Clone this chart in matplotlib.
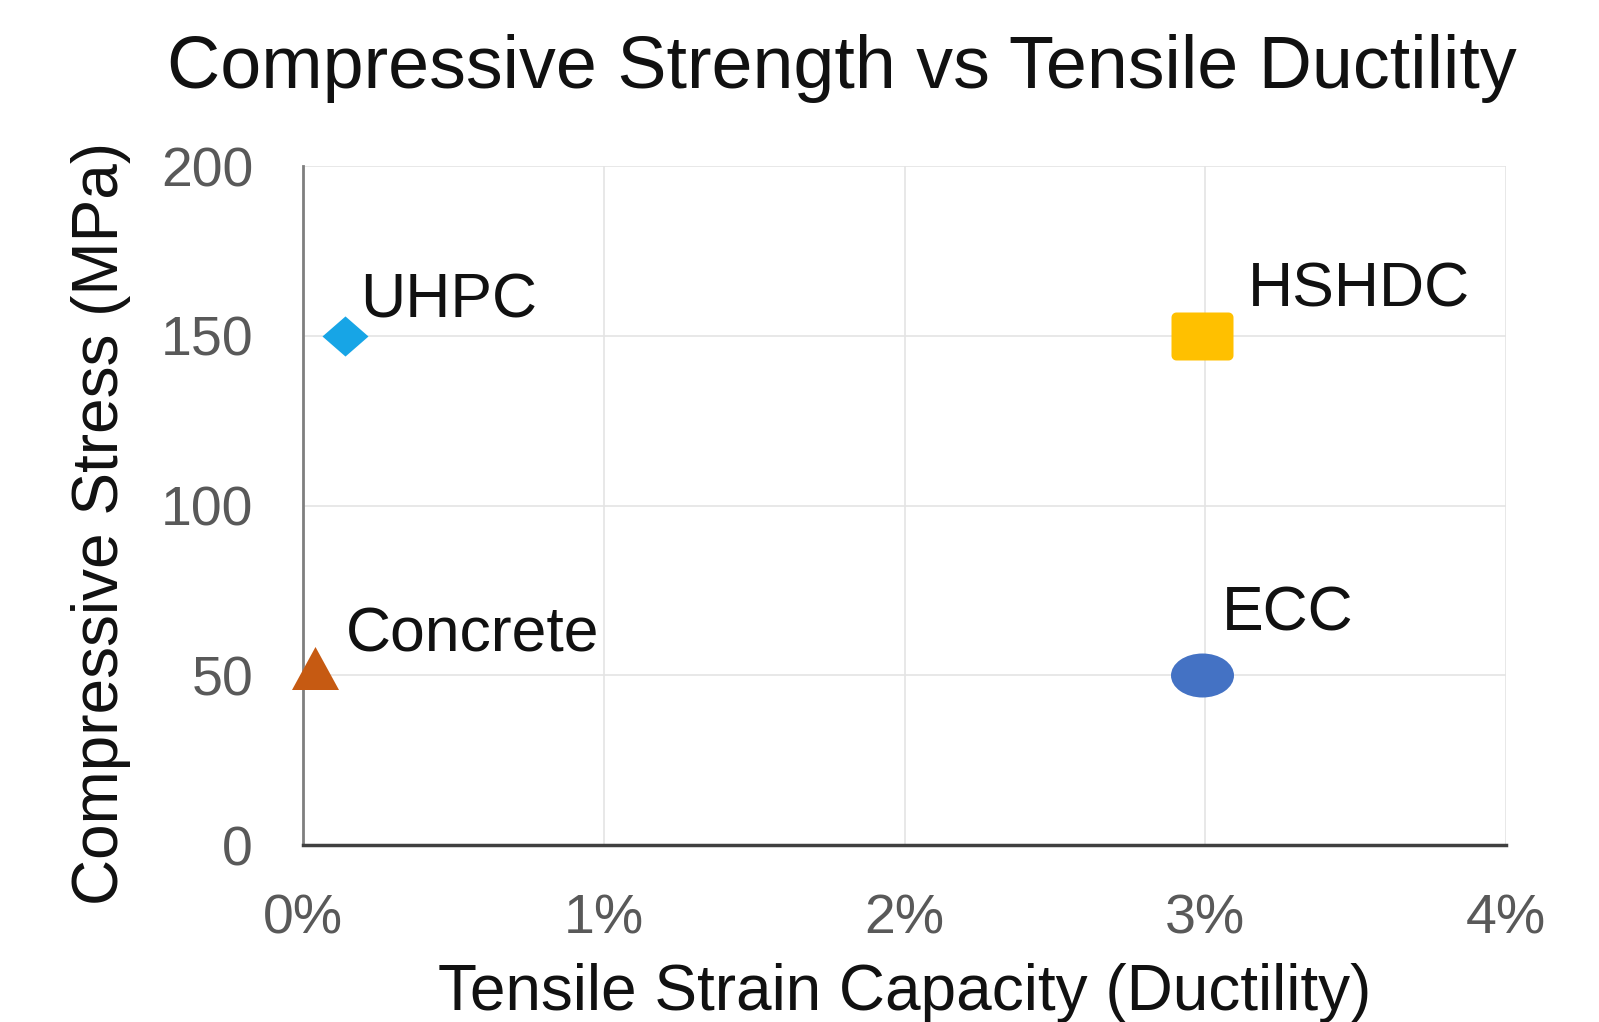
import numpy as np
import matplotlib
matplotlib.use("Agg")
import matplotlib.pyplot as plt
from matplotlib.path import Path
from matplotlib.transforms import Affine2D
from matplotlib.ticker import PercentFormatter

plt.rcParams['font.family'] = ['Liberation Sans', 'DejaVu Sans']

# ---- data ----
materials = ['UHPC', 'Concrete', 'HSHDC', 'ECC']
strain_pct = [0.14, 0.04, 2.99, 2.99]        # tensile strain capacity (%)
stress_mpa = [150, 52, 150, 50]              # compressive stress (MPa)
colors = ['#17A5E6', '#C65A12', '#FFC000', '#4472C4']
x_ticks = [0, 1, 2, 3, 4]
y_ticks = [0, 50, 100, 150, 200]

title = 'Compressive Strength vs Tensile Ductility'
xlabel = 'Tensile Strain Capacity (Ductility)'
ylabel = 'Compressive Stress (MPa)'

# ---- marker shapes ----
def diamond(h):
    return Path([(0, h), (1, 0), (0, -h), (-1, 0), (0, h)],
                [Path.MOVETO, Path.LINETO, Path.LINETO, Path.LINETO, Path.CLOSEPOLY])

def triangle(h):
    return Path([(0, h), (-1, -h), (1, -h), (0, h)],
                [Path.MOVETO, Path.LINETO, Path.LINETO, Path.CLOSEPOLY])

def rounded_rect(h, r):
    pts = []
    corners = [(1 - r, h - r, 0), (-1 + r, h - r, 90), (-1 + r, -h + r, 180), (1 - r, -h + r, 270)]
    for cx, cy, a0 in corners:
        for a in np.linspace(a0, a0 + 90, 8):
            t = np.deg2rad(a)
            pts.append((cx + r * np.cos(t), cy + r * np.sin(t)))
    pts.append(pts[0])
    codes = [Path.MOVETO] + [Path.LINETO] * (len(pts) - 2) + [Path.CLOSEPOLY]
    return Path(pts, codes)

def ellipse(h):
    return Affine2D().scale(1, h).transform_path(Path.unit_circle())

markers = [diamond(41 / 47), triangle(43 / 47), rounded_rect(48 / 62, 0.16), ellipse(44 / 63)]
msizes = [46 * 0.72, 47 * 0.72, 62 * 0.72, 63 * 0.72]   # points

label_offsets = [(15, 18), (31, 17), (46, 29), (20, 45)]  # pixels

W, H = 1599, 1022
fig = plt.figure(figsize=(W / 100, H / 100), dpi=100)
fig.patch.set_facecolor('white')
ax = fig.add_axes([303 / W, 1 - 845 / H, (1506 - 303) / W, (845 - 166) / H])

for xv, yv, c, mk, ms in zip(strain_pct, stress_mpa, colors, markers, msizes):
    ax.plot([xv], [yv], linestyle='none', marker=mk, markersize=ms,
            markerfacecolor=c, markeredgewidth=0, zorder=3, clip_on=False)

for name, xv, yv, off in zip(materials, strain_pct, stress_mpa, label_offsets):
    ax.annotate(name, (xv, yv), xytext=off, textcoords='offset pixels',
                ha='left', va='baseline', fontsize=45, color='#111111', zorder=4)

ax.set_xlim(0, 4)
ax.set_ylim(0, 200)
ax.set_xticks(x_ticks)
ax.set_yticks(y_ticks)
ax.xaxis.set_major_formatter(PercentFormatter(xmax=100, decimals=0))
ax.grid(True, color='#E4E4E4', linewidth=1.2)
ax.set_axisbelow(True)
for s in ['top', 'right']:
    ax.spines[s].set_visible(False)
ax.spines['left'].set_color('#7F7F7F')
ax.spines['left'].set_linewidth(2)
ax.spines['bottom'].set_color('#404040')
ax.spines['bottom'].set_linewidth(2.5)
ax.tick_params(axis='both', length=0, labelsize=40, labelcolor='#595959')
ax.tick_params(axis='x', pad=35)
ax.tick_params(axis='y', pad=36)

fig.text(842 / W, 1 - 88 / H, title, ha='center', va='baseline', fontsize=53, color='#111111')
fig.text(905 / W, 1 - 1010 / H, xlabel, ha='center', va='baseline', fontsize=46, color='#111111')
fig.text(101 / W, 1 - 523 / H, ylabel, ha='center', va='center', rotation=90,
         fontsize=46, color='#111111')

fig.savefig('out.png', dpi=100, facecolor='white')
